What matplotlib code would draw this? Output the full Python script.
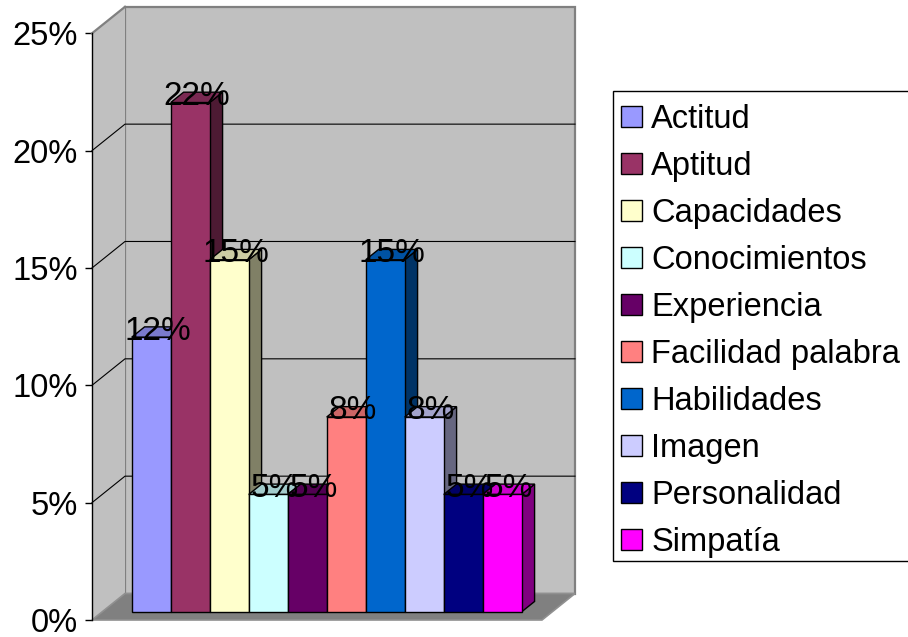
import matplotlib.pyplot as plt
from matplotlib.patches import Polygon, Patch, Rectangle
from matplotlib.colors import to_rgb

plt.rcParams['font.family'] = ['Liberation Sans', 'DejaVu Sans']

categories = ['Actitud', 'Aptitud', 'Capacidades', 'Conocimientos', 'Experiencia',
              'Facilidad palabra', 'Habilidades', 'Imagen', 'Personalidad', 'Simpatía']
shares = [11.7, 21.7, 15.0, 5.0, 5.0, 8.3, 15.0, 8.3, 5.0, 5.0]
colors = ['#9999FF', '#993366', '#FFFFCC', '#CCFFFF', '#660066',
          '#FF8080', '#0066CC', '#CCCCFF', '#000080', '#FF00FF']
yticks = [0, 5, 10, 15, 20, 25]

W, H = 908, 637
fig = plt.figure(figsize=(W / 100, H / 100), dpi=100)
# front plane of the 3d box, in pixels
ax = fig.add_axes([92 / W, (H - 620) / H, 450 / W, (620 - 33.3) / H])

x0 = -0.756
x1 = x0 + 450 / 39.0
ax.set_xlim(x0, x1)
ax.set_ylim(0, 25)

# depth of the box in data units, bar placement inside it
dx, dy = 33 / 39.0, 26.5 / 23.47
f_front, f_depth = 0.31, 0.39

def shade(c, k):
    r, g, b = to_rgb(c)
    return (r * k, g * k, b * k)

# walls and floor
ax.add_patch(Polygon([(x0 + dx, dy), (x1 + dx, dy), (x1 + dx, 25 + dy), (x0 + dx, 25 + dy)],
                     closed=True, fc='#C0C0C0', ec='#808080', lw=1.6, clip_on=False, zorder=1))
ax.add_patch(Polygon([(x0, 0), (x0, 25), (x0 + dx, 25 + dy), (x0 + dx, dy)],
                     closed=True, fc='#C0C0C0', ec='none', clip_on=False, zorder=1))
ax.plot([x0, x0 + dx], [25, 25 + dy], color='#808080', lw=1.6, clip_on=False, zorder=2)
ax.add_patch(Polygon([(x0, 0), (x1, 0), (x1 + dx, dy), (x0 + dx, dy)],
                     closed=True, fc='#808080', ec='#909090', lw=1.2, clip_on=False, zorder=2))

for t in yticks[1:-1]:
    ax.plot([x0, x0 + dx, x1 + dx], [t, t + dy, t + dy], color='black', lw=0.8,
            clip_on=False, zorder=2)

# bars, left to right so each front face hides the previous side
ox, oy = f_front * dx, f_front * dy
bx, by = f_depth * dx, f_depth * dy
for i, (v, c) in enumerate(zip(shares, colors)):
    l, r = i + ox, i + 1 + ox
    b, t = oy, v + oy
    side = [(r, b), (r + bx, b + by), (r + bx, t + by), (r, t)]
    top = [(l, t), (r, t), (r + bx, t + by), (l + bx, t + by)]
    front = [(l, b), (r, b), (r, t), (l, t)]
    z = 3 + i * 0.01
    ax.add_patch(Polygon(side, closed=True, fc=shade(c, 0.5), ec='black', lw=1.0,
                         clip_on=False, zorder=z))
    ax.add_patch(Polygon(top, closed=True, fc=shade(c, 0.8), ec='black', lw=1.0,
                         clip_on=False, zorder=z))
    ax.add_patch(Polygon(front, closed=True, fc=c, ec='black', lw=1.0,
                         clip_on=False, zorder=z))

for i, v in enumerate(shares):
    ax.text(i + 0.5 + ox + bx / 2, v + oy - 0.1, f'{v:.0f}%',
            ha='center', va='baseline', fontsize=24, zorder=10)

ax.set_yticks(yticks)
ax.set_yticklabels([f'{t}%' for t in yticks])
ax.set_xticks([])
ax.tick_params(axis='y', length=5, width=1, pad=5, labelsize=23.5)
for s in ['top', 'right', 'bottom']:
    ax.spines[s].set_visible(False)
ax.spines['left'].set_linewidth(1)
ax.patch.set_visible(False)

# legend box drawn by hand, runs off the right edge
fig.patches.append(Rectangle((612.7 / W, 1 - 561 / H), 300 / W, (561 - 90.7) / H,
                             transform=fig.transFigure, fc='white', ec='black', lw=1.0))
handles = [Patch(fc=c, ec='black', lw=1.0) for c in colors]
leg = fig.legend(handles, categories, loc='upper left',
                 bbox_to_anchor=(607.7 / W, 1 - 90.7 / H), borderaxespad=0,
                 fontsize=23.5, handlelength=0.65, handleheight=0.62,
                 handletextpad=0.28, labelspacing=0.49, borderpad=0.4,
                 frameon=False)

fig.savefig('out.png', dpi=100)
